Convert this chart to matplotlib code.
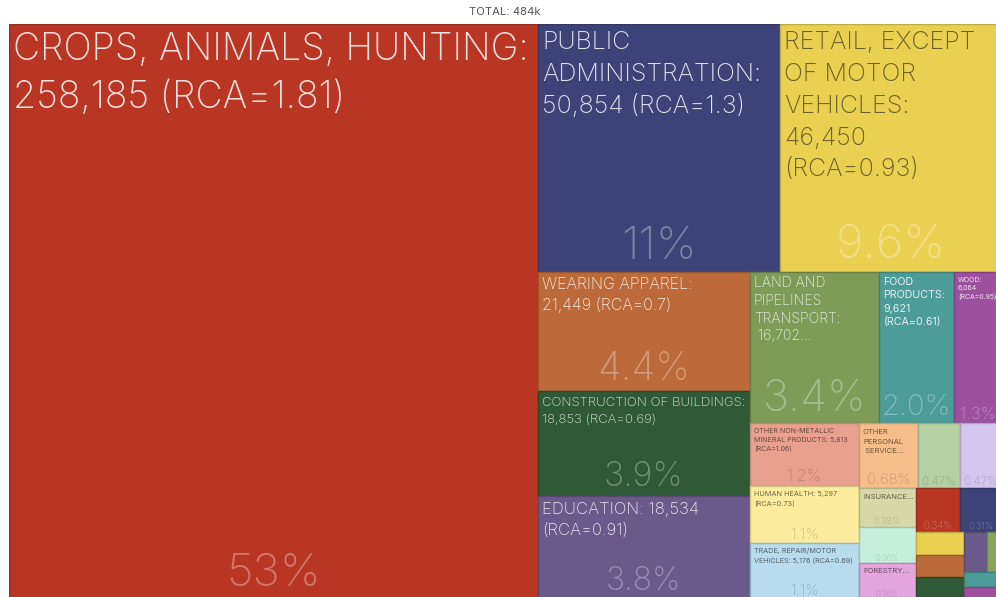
import numpy as np
import matplotlib
matplotlib.use('Agg')
import matplotlib.pyplot as plt
from matplotlib.patches import Rectangle
import matplotlib.colors as mcolors

plt.rcParams['font.family'] = ['Inter', 'Liberation Sans', 'DejaVu Sans']
plt.rcParams['font.weight'] = 'light'

# data: sectors (as printed in the boxes), values
labels = ['CROPS, ANIMALS, HUNTING:\n258,185 (RCA=1.81)',
          'PUBLIC\nADMINISTRATION:\n50,854 (RCA=1.3)',
          'RETAIL, EXCEPT\nOF MOTOR\nVEHICLES:\n46,450\n(RCA=0.93)',
          'WEARING APPAREL:\n21,449 (RCA=0.7)',
          'CONSTRUCTION OF BUILDINGS:\n18,853 (RCA=0.69)',
          'EDUCATION: 18,534\n(RCA=0.91)',
          'LAND AND\nPIPELINES\nTRANSPORT:\n 16,702...',
          'FOOD\nPRODUCTS:\n9,621\n(RCA=0.61)',
          'WOOD:\n6,064\n(RCA=0.95)',
          'OTHER NON-METALLIC\nMINERAL PRODUCTS: 5,813\n(RCA=1.06)',
          'HUMAN HEALTH: 5,297\n(RCA=0.73)',
          'TRADE, REPAIR/MOTOR\nVEHICLES: 5,176 (RCA=0.69)',
          'OTHER\nPERSONAL\n SERVICE...',
          '', '',
          'INSURANCE...',
          '',
          'FORESTRY...',
          '', '', '', '', '', '', '', '', '']
values = [258185, 50854, 46450, 21449, 18853, 18534, 16702, 9621, 6064,
          5813, 5297, 5176, 3290, 2276, 2276, 1840, 1743, 1743, 1646, 1501,
          960, 930, 910, 750, 490, 480, 367]
total = sum(values)

# styles
colors = ['#b93625', '#3d4379', '#e9d050', '#bd6a3a', '#2f5a35', '#6a5a8a',
          '#7e9b57', '#4c9c9a', '#9c509d', '#e9a18f', '#fcec9e', '#b8dbed',
          '#f5be8a', '#b5d0a3', '#d4c5ef', '#d7d7a7', '#c5eedb', '#e4a5dc',
          '#b93625', '#3d4379', '#e9d050', '#bd6a3a', '#2f5a35', '#6a5a8a',
          '#86a55a', '#4c9c9a', '#a0509d']
name_size = [27, 18, 18, 11.5, 9.5, 12, 10, 7.7, 5, 5.1, 5.3, 5.2, 5.5, 0, 0,
             5.5, 0, 5.5, 0, 0, 0, 0, 0, 0, 0, 0, 0]
pct_size = [33, 33, 34, 28, 24.5, 23, 31.5, 21, 12, 11.7, 10.7, 10.7, 10.7,
            8.5, 8.5, 6.5, 5.7, 5.7, 7, 6.6, 0, 0, 0, 0, 0, 0, 0]
dark_name = [0, 0, 1, 0, 0, 0, 0, 0, 0, 1, 1, 1, 1, 1, 1, 1, 1, 1, 0, 0,
             0, 0, 0, 0, 0, 0, 0]
dark_pct = [0, 0, 0, 0, 0, 0, 0, 0, 0, 1, 1, 1, 1, 1, 1, 1, 1, 1, 0, 0,
            0, 0, 0, 0, 0, 0, 0]

PHI = 0.5 * (1 + np.sqrt(5))


# squarified treemap, same rules as the d3 v3 layout
def worst(areas, u):
    s = sum(areas) ** 2
    u = u * u
    return max(u * max(areas) * PHI / s, s / (u * min(areas) * PHI))


def position(row, u, rect, flush, out):
    x, y, dx, dy = rect
    v = sum(a for _, a in row) / u
    if u == dx:
        if flush or v > dy:
            v = dy
        cx = x
        for i, a in row:
            w = min(x + dx - cx, a / v)
            out[i] = [cx, y, w, v]
            cx += w
        out[row[-1][0]][2] += x + dx - cx
        return [x, y + v, dx, dy - v]
    if flush or v > dx:
        v = dx
    cy = y
    for i, a in row:
        h = min(y + dy - cy, a / v)
        out[i] = [x, cy, v, h]
        cy += h
    out[row[-1][0]][3] += y + dy - cy
    return [x + v, y, dx - v, dy]


def squarify(vals, W, H):
    order = sorted(range(len(vals)), key=lambda i: -vals[i])
    k = W * H / sum(vals)
    remaining = [(i, vals[i] * k) for i in order]
    rect = [0, 0, W, H]
    out = {}
    row, best = [], np.inf
    u = min(W, H)
    while remaining:
        row.append(remaining[0])
        score = worst([a for _, a in row], u)
        if score <= best:
            remaining.pop(0)
            best = score
        else:
            row.pop()
            rect = position(row, u, rect, False, out)
            u = min(rect[2], rect[3])
            row, best = [], np.inf
    if row:
        position(row, u, rect, True, out)
    return out


W, H = 992, 575
boxes = squarify(values, W, H)

fig = plt.figure(figsize=(9.96, 5.97), dpi=100)
ax = fig.add_axes([9 / 996, (597 - 24) / 597 - H / 597, W / 996, H / 597])
ax.set_xlim(0, W)
ax.set_ylim(H, 0)
ax.axis('off')

for i, v in enumerate(values):
    x0, y0, w, h = boxes[i]
    fc = np.array(mcolors.to_rgb(colors[i]))
    rect = Rectangle((x0, y0), w, h, facecolor=fc, edgecolor=fc * 0.82,
                     linewidth=1.0)
    ax.add_patch(rect)

    # sector name, one line at a time with a fixed line pitch
    if name_size[i] > 0 and labels[i]:
        fs = name_size[i]
        col = (0, 0, 0, 0.55) if dark_name[i] else (1, 1, 1, 0.85)
        wt = 'normal' if fs < 8 else 'light'
        for j, line in enumerate(labels[i].split('\n')):
            dy = 2.9 + 0.13 * fs + 0.727 * fs + j * 1.27 * fs
            t = ax.annotate(line, (x0, y0), xytext=(3, -dy),
                            textcoords='offset points', ha='left',
                            va='baseline', fontsize=fs, color=col,
                            fontweight=wt)
            t.set_clip_path(rect)

    # share of total
    if pct_size[i] > 0:
        fs = pct_size[i]
        p = 100 * v / total
        txt = f'{p:.2g}%'
        if p < 10 and '.' not in txt:
            txt = f'{p:.1f}%'
        col = (0, 0, 0, 0.2) if dark_pct[i] else (1, 1, 1, 0.33)
        t = ax.annotate(txt, (x0 + w / 2, y0 + h), xytext=(0, 0.28 * fs),
                        textcoords='offset points', ha='center',
                        va='baseline', fontsize=fs, color=col)
        t.set_clip_path(rect)

fig.text(505 / 996, 1 - 12 / 597, 'TOTAL: 484k', ha='center', va='center',
         fontsize=8.2, color='#555555', fontweight='normal')

fig.savefig('out.png', dpi=100)
